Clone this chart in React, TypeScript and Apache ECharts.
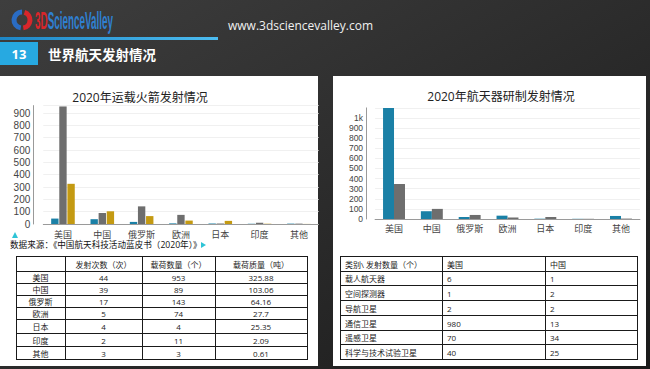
import React, { useEffect, useRef } from 'react';
import * as echarts from 'echarts';

// ---------- data ----------
const categories = ['美国', '中国', '俄罗斯', '欧洲', '日本', '印度', '其他'];
const rocketSeriesNames = ['发射次数（次）', '载荷数量（个）', '载荷质量（吨）'];
const launchCounts = [44, 39, 17, 5, 4, 2, 3];
const payloadCounts = [953, 89, 143, 74, 4, 11, 3];
const payloadMass = [325.88, 103.06, 64.16, 27.7, 25.35, 2.09, 0.61];

const spacecraftSeriesNames = ['发射数量（个）', '发射质量（吨）'];
const spacecraftCounts = [1099, 77, 20, 33, 3, 2, 30];
const spacecraftMass = [346, 100, 40, 15, 20, 2, 4];

const typeHeader = ['类别\\ 发射数量（个）', '美国', '中国'];
const typeCategories = ['载人航天器', '空间探测器', '导航卫星', '通信卫星', '遥感卫星', '科学与技术试验卫星'];
const usTypeCounts = [6, 1, 2, 980, 70, 40];
const cnTypeCounts = [1, 2, 2, 13, 34, 25];

const leftTitle = '2020年运载火箭发射情况';
const rightTitle = '2020年航天器研制发射情况';
const sourceText = '数据来源：《中国航天科技活动蓝皮书（2020年）》';
const pageTitle = '世界航天发射情况';
const pageNumber = '13';
const siteUrl = 'www.3dsciencevalley.com';

// ---------- styles ----------
const FONT = "'Open Sans', 'Noto Sans CJK SC', sans-serif";
const CJK = "'Noto Sans CJK SC', sans-serif";
const TICKFONT = "'Liberation Sans', sans-serif";
const BLUE = '#1a80a6';
const GRAY = '#6e6e6e';
const GOLD = '#c49a12';

function txt(text: string, x: number, y: number, o: any = {}) {
  return {
    type: 'text',
    x,
    y,
    z: o.z ?? 5,
    style: {
      text,
      fill: o.fill ?? '#1a1a1a',
      fontSize: o.fontSize ?? 8,
      fontWeight: o.fontWeight ?? 'normal',
      fontFamily: o.fontFamily ?? FONT,
      textAlign: o.align ?? 'left',
      textVerticalAlign: 'middle',
    },
  };
}

function table(xs: number[], ys: number[], cells: string[][], align: 'center' | 'left') {
  const els: any[] = [];
  const x0 = xs[0];
  const x1 = xs[xs.length - 1];
  const y0 = ys[0];
  const y1 = ys[ys.length - 1];
  ys.forEach((y) => {
    els.push({ type: 'line', z: 5, shape: { x1: x0, y1: y + 0.5, x2: x1 + 1, y2: y + 0.5 }, style: { stroke: '#1a1a1a', lineWidth: 1 } });
  });
  xs.forEach((x) => {
    els.push({ type: 'line', z: 5, shape: { x1: x + 0.5, y1: y0, x2: x + 0.5, y2: y1 + 1 }, style: { stroke: '#1a1a1a', lineWidth: 1 } });
  });
  cells.forEach((row, r) => {
    const cy = (ys[r] + ys[r + 1]) / 2 + 0.5;
    row.forEach((c, k) => {
      if (!c) return;
      const cx = align === 'center' ? (xs[k] + xs[k + 1]) / 2 : xs[k] + 5;
      els.push(txt(c, cx, cy, { align }));
    });
  });
  return els;
}

export default function App() {
  const ref = useRef<HTMLDivElement>(null);
  useEffect(() => {
    document.body.style.margin = '0';
    const chart = echarts.init(ref.current!, null, { renderer: 'svg' });

    const leftCells = [
      ['', ...rocketSeriesNames],
      ...categories.map((c, i) => [c, String(launchCounts[i]), String(payloadCounts[i]), String(payloadMass[i])]),
    ];
    const rightCells = [
      typeHeader,
      ...typeCategories.map((c, i) => [c, String(usTypeCounts[i]), String(cnTypeCounts[i])]),
    ];
    const rightYs = [0, 1, 2, 3, 4, 5, 6, 7].map((k) => Math.round(256 + k * 14.71));

    const graphics: any[] = [
      // panels
      { type: 'rect', z: -1, shape: { x: 0, y: 76, width: 318, height: 290 }, style: { fill: '#ffffff' } },
      { type: 'rect', z: -1, shape: { x: 333, y: 76, width: 313, height: 290 }, style: { fill: '#ffffff' } },
      // header line and number box
      {
        type: 'rect',
        shape: { x: 0, y: 37, width: 218, height: 3 },
        style: {
          fill: new echarts.graphic.LinearGradient(0, 0, 1, 0, [
            { offset: 0, color: '#1d86c6' },
            { offset: 1, color: '#4cbcf0' },
          ]),
        },
      },
      { type: 'rect', shape: { x: 0, y: 42, width: 38, height: 23 }, style: { fill: '#27a9e1' } },
      txt(pageNumber, 19, 54, { fill: '#ffffff', fontSize: 13, fontWeight: 'bold', align: 'center' }),
      txt(pageTitle, 48, 54, { fill: '#ffffff', fontSize: 13.5, fontWeight: 'bold', fontFamily: CJK }),
      txt(siteUrl, 228, 25, { fill: '#f0f0f0', fontSize: 12 }),
      // logo
      { type: 'arc', shape: { cx: 22, cy: 20, r: 8, startAngle: Math.PI * 0.55, endAngle: Math.PI * 1.5 }, style: { stroke: '#2a6cc4', lineWidth: 5, fill: 'none' } },
      { type: 'arc', shape: { cx: 22, cy: 20, r: 8, startAngle: Math.PI * 1.6, endAngle: Math.PI * 2.45 }, style: { stroke: '#d8262b', lineWidth: 5, fill: 'none' } },
      {
        type: 'group',
        x: 35,
        y: 20,
        scaleX: 0.47,
        scaleY: 1.15,
        children: [
          txt('3D', 0, 0, { fill: '#d8262b', fontSize: 21, fontWeight: 'bold', fontFamily: "'Liberation Sans', sans-serif" }),
          txt('ScienceValley', 27, 0, { fill: '#2f80d1', fontSize: 21, fontWeight: 'bold', fontFamily: "'Liberation Sans', sans-serif" }),
        ],
      },
      // chart titles
      txt(leftTitle, 140, 97, { fontSize: 12, fill: '#222', align: 'center' }),
      txt(rightTitle, 501, 96, { fontSize: 12, fill: '#222', align: 'center' }),
      // source line
      { type: 'polygon', z: 5, shape: { points: [[12, 238], [15, 232], [18, 238]] }, style: { fill: '#2ec4d6' } },
      txt(sourceText, 10, 245, { fontSize: 8.6, fill: '#111' }),
      { type: 'polygon', z: 5, shape: { points: [[201, 242], [201, 248], [206, 245]] }, style: { fill: '#2ec4d6' } },
      // tables
      ...table([16, 65, 142, 215, 307], [256, 271, 283, 295, 307, 319, 333, 346, 359], leftCells, 'center'),
      ...table([340, 442, 545, 637], rightYs, rightCells, 'left'),
    ];

    const xAxisCommon = {
      type: 'category',
      data: categories,
      axisLine: { lineStyle: { color: '#9a9a9a' } },
      axisTick: { alignWithLabel: true, length: 4, lineStyle: { color: '#888' } },
      axisLabel: { fontSize: 9, color: '#444', margin: 5, interval: 0, fontFamily: CJK, lineHeight: 10 },
    };
    const yAxisCommon = {
      type: 'value',
      min: 0,
      interval: 100,
      axisLine: { show: true, lineStyle: { color: '#9a9a9a' } },
      axisTick: { show: false },
      splitLine: { lineStyle: { color: '#f0f0f0' } },
    };

    const option: any = {
      animation: false,
      backgroundColor: new echarts.graphic.LinearGradient(0, 0, 1, 1, [
        { offset: 0, color: '#3e3e3e' },
        { offset: 1, color: '#1a1a1a' },
      ]),
      textStyle: { fontFamily: FONT },
      grid: [
        { left: 43.3, top: 105.6, width: 275.3, height: 118.4 },
        { left: 375.1, top: 107.9, width: 264.8, height: 111.1 },
      ],
      xAxis: [
        { ...xAxisCommon, gridIndex: 0 },
        { ...xAxisCommon, gridIndex: 1, axisLabel: { ...xAxisCommon.axisLabel, margin: 4 } },
      ],
      yAxis: [
        {
          ...yAxisCommon,
          gridIndex: 0,
          max: 960,
          offset: 10,
          axisLabel: { fontSize: 10, lineHeight: 10, fontFamily: TICKFONT, color: '#444', margin: 3, showMaxLabel: false },
        },
        {
          ...yAxisCommon,
          gridIndex: 1,
          max: 1099,
          offset: 9,
          axisLabel: {
            fontSize: 8.5,
            lineHeight: 8.5,
            fontFamily: TICKFONT,
            color: '#444',
            margin: 3,
            showMaxLabel: false,
            formatter: (v: number) => (v >= 1000 ? v / 1000 + 'k' : String(v)),
          },
        },
      ],
      series: [
        { type: 'bar', name: rocketSeriesNames[0], xAxisIndex: 0, yAxisIndex: 0, data: launchCounts, itemStyle: { color: BLUE }, barGap: '10%', barCategoryGap: '40%' },
        { type: 'bar', name: rocketSeriesNames[1], xAxisIndex: 0, yAxisIndex: 0, data: payloadCounts, itemStyle: { color: GRAY }, barGap: '10%', barCategoryGap: '40%' },
        { type: 'bar', name: rocketSeriesNames[2], xAxisIndex: 0, yAxisIndex: 0, data: payloadMass, itemStyle: { color: GOLD }, barGap: '10%', barCategoryGap: '40%' },
        { type: 'bar', name: spacecraftSeriesNames[0], xAxisIndex: 1, yAxisIndex: 1, data: spacecraftCounts, itemStyle: { color: BLUE }, barGap: '0%', barCategoryGap: '42%' },
        { type: 'bar', name: spacecraftSeriesNames[1], xAxisIndex: 1, yAxisIndex: 1, data: spacecraftMass, itemStyle: { color: GRAY }, barGap: '0%', barCategoryGap: '42%' },
      ],
      graphic: { elements: graphics },
    };

    chart.setOption(option);
    return () => chart.dispose();
  }, []);
  return <div ref={ref} style={{ position: 'fixed', left: 0, top: 0, width: 650, height: 369 }} />;
}
